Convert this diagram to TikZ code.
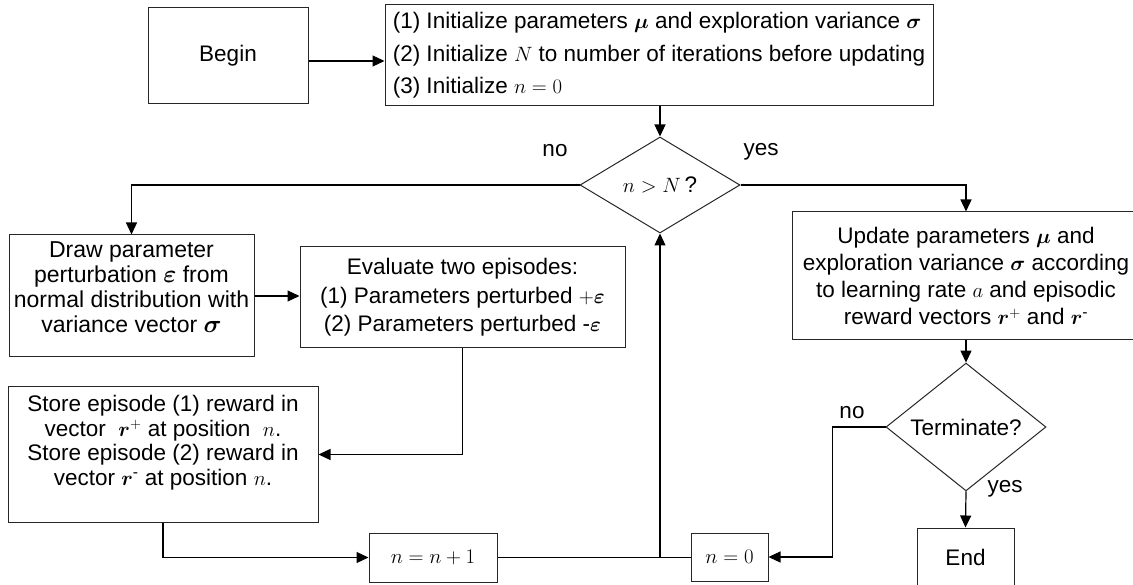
\documentclass[tikz,border=0pt]{standalone}
\usepackage[no-math]{fontspec}
\setmainfont{Liberation Sans}
\usepackage{amsmath,bm}
\usetikzlibrary{shapes.geometric,arrows.meta}

% invisible depth below the last line, lifts a text block inside its box
\newcommand\dropgap[1]{\rule[-#1]{0pt}{#1}}

\begin{document}
\begin{tikzpicture}[x=1pt,y=-1pt,
  txt/.style={font=\fontsize{22.5}{#1}\selectfont},
  txt/.default=25,
  box/.style={draw=black!85, line width=1pt, inner sep=3pt, align=center, txt},
  decision/.style={draw=black!85, line width=1pt, diamond, inner sep=0pt, txt},
  flow/.style={line width=1.2pt, -{Triangle[length=12pt,width=11pt]}},
  link/.style={line width=1.2pt},
  lbl/.style={inner sep=0pt, txt}]

\useasboundingbox (0,0) rectangle (1133,585);
\clip (0,0) rectangle (1133,585);

% ---- boxes ----
\node[box, minimum width=160, minimum height=96] (begin) at (228,56) {Begin};

\node[box, minimum width=548, minimum height=101, align=left, txt=32.5] (init) at (659,55.5)
  {(1) Initialize parameters $\bm{\mu}$ and exploration variance $\bm{\sigma}$\\
   (2) Initialize $N$ to number of iterations before updating\\
   (3) Initialize $n=0$};

\node[decision, minimum width=160, minimum height=96] (test) at (660,185) {$n>N$\,?};

\node[box, minimum width=245, minimum height=122, font=\fontsize{23}{25}\selectfont] (sample) at (131.5,296)
  {Draw parameter\\
   perturbation $\bm{\varepsilon}$ from\\
   normal distribution with\\
   variance vector $\bm{\sigma}$\dropgap{18pt}};

\node[box, minimum width=325, minimum height=101, txt=28.5] (eval) at (462.5,297.5)
  {Evaluate two episodes:\\
   (1) Parameters perturbed $+\bm{\varepsilon}$\\
   (2) Parameters perturbed -$\bm{\varepsilon}$};

\node[box, minimum width=310, minimum height=135, txt=24.5] (store) at (163,454.5)
  {Store episode (1) reward in\\
   vector\ \ $\bm{r}^{+}$ at position\ \ $n$.\\
   Store episode (2) reward in\\
   vector $\bm{r}^{\text{-}}$\ at position $n$.\dropgap{28pt}};

\node[box, minimum width=128, minimum height=49] (incr) at (433,557.5) {$n=n+1$};

\node[box, minimum width=77, minimum height=48] (reset) at (729.5,557) {$n=0$};

\node[box, minimum width=348, minimum height=128, txt=27] (update) at (966,276)
  {Update parameters $\bm{\mu}$ and\\
   exploration variance $\bm{\sigma}$ according\\
   to learning rate $a$ and episodic\\
   reward vectors $\bm{r}^{+}$ and $\bm{r}^{\text{-}}$};

\node[decision, minimum width=160, minimum height=95] (term) at (966,427) {Terminate?};

\node[box, minimum width=97, minimum height=59] (stop) at (965.5,557.5) {End};

% ---- branch labels ----
\node[lbl] (tno)  at (555,151) {no};
\node[lbl] (tyes) at (761,152) {yes};
\node[lbl] (qno)  at (852,413) {no};
\node[lbl] (qyes) at (1005,489) {yes};

% ---- connectors ----
\coordinate (ba) at ([yshift=-5pt]begin.east);
\draw[flow] (ba) -- (ba -| init.west);
\draw[flow] (test.north |- init.south) -- (test.north);
\draw[flow] (test.west) -| (sample.north);
\draw[flow] (test.east) -| (update.north);
\draw[flow] (sample.east) -- (sample.east -| eval.west);
\draw[flow] (eval.south) |- (store.east);
\draw[flow] (store.south) |- (incr.west);
\draw[link] (incr.east) -- (incr.east -| reset.west);
\coordinate (join) at (test.south |- incr.east);
\draw[flow] (join) -- (test.south);
\draw[flow] (update.south) -- (term.north);
\draw[flow] (term.west) -- +(-53,0) |- (reset.east);
\draw[flow] (term.south) -- (stop.north);
\end{tikzpicture}
\end{document}
